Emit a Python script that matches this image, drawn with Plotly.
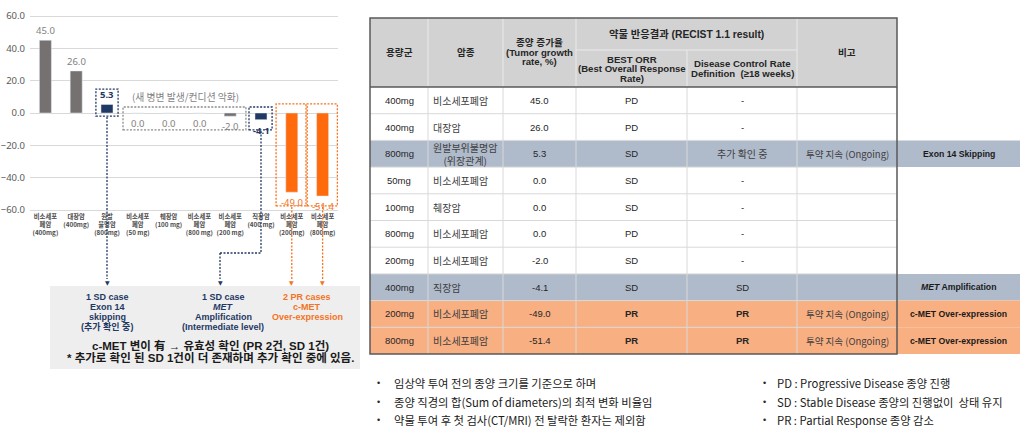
import plotly.graph_objects as go

W, H = 1022, 431


def PX(x):
    return x / W


def PY(y):
    return 1 - y / H


# ---------------- data ----------------
tick_labels = ["비소세포<br>폐암<br>(400mg)", "대장암<br>(400mg)", "원발<br>불명암<br>(800mg)",
               "비소세포<br>폐암<br>(50 mg)", "췌장암<br>(100 mg)", "비소세포<br>폐암<br>(800 mg)",
               "비소세포<br>폐암<br>(200 mg)", "직장암<br>(400 mg)", "비소세포<br>폐암<br>(200mg)",
               "비소세포<br>폐암<br>(800mg)"]
growth = [45.0, 26.0, 5.3, 0.0, 0.0, 0.0, -2.0, -4.1, -49.0, -51.4]
y_ticks = [60, 40, 20, 0, -20, -40, -60]

doses = ["400mg", "400mg", "800mg", "50mg", "100mg", "800mg", "200mg", "400mg", "200mg", "800mg"]
cancers = ["비소세포폐암", "대장암", "원발부위불명암<br>(위장관계)", "비소세포폐암", "췌장암",
           "비소세포폐암", "비소세포폐암", "직장암", "비소세포폐암", "비소세포폐암"]
best_orr = ["PD", "PD", "SD", "SD", "SD", "PD", "SD", "SD", "PR", "PR"]
dcr = ["-", "-", "추가 확인 중", "-", "-", "-", "-", "SD", "PR", "PR"]
remarks = ["", "", "투약 지속 (Ongoing)", "", "", "", "", "", "투약 지속 (Ongoing)", "투약 지속 (Ongoing)"]
mutation = ["", "", "Exon 14 Skipping", "", "", "", "", "<i>MET</i> Amplification",
            "c-MET Over-expression", "c-MET Over-expression"]

header_texts = [["용량군"], ["암종"], ["종양 증가율", "(Tumor growth", "rate, %)"]]
group_header = "약물 반응결과 (RECIST 1.1 result)"
sub_headers = [["BEST ORR", "(Best Overall Response", "Rate)"],
               ["Disease Control Rate", "Definition  (≥18 weeks)"]]
remark_header = "비고"

notes_left = ["임상약 투여 전의 종양 크기를 기준으로 하며",
              "종양 직경의 합(Sum of diameters)의 최적 변화 비율임",
              "약물 투여 후 첫 검사(CT/MRI) 전 탈락한 환자는 제외함"]
notes_right = ["PD : Progressive Disease 종양 진행",
               "SD : Stable Disease 종양의 진행없이  상태 유지",
               "PR : Partial Response 종양 감소"]

case_texts = [["1 SD case", "Exon 14", "skipping", "(추가 확인 중)"],
              ["1 SD case", "<i>MET</i>", "Amplification", "(Intermediate level)"],
              ["2 PR cases", "c-MET", "Over-expression"]]
summary_lines = ["c-MET 변이 有 → 유효성 확인 (PR 2건, SD 1건)",
                 "* 추가로 확인 된 SD 1건이 더 존재하며 추가 확인 중에 있음."]
chart_note = "(새 병변 발생/컨디션 악화)"

# ---------------- styles ----------------
GRAY = "#767171"
NAVY = "#1F3864"
ORANGE = "#FF6A0D"
ORANGE_T = "#F4731F"
LBL_GRAY = "#7F7F7F"
BLUEGRAY = "#AFBACB"
PEACH = "#F8AF82"
FONT = "Liberation Sans, Arial, Noto Sans CJK KR, sans-serif"
KFONT = "Noto Sans CJK KR, Liberation Sans, sans-serif"

bar_colors = [GRAY, GRAY, NAVY, GRAY, GRAY, GRAY, GRAY, NAVY, ORANGE, ORANGE]
label_colors = [LBL_GRAY, LBL_GRAY, NAVY, LBL_GRAY, LBL_GRAY, LBL_GRAY, LBL_GRAY, NAVY, ORANGE_T, ORANGE_T]
label_bold = [False, False, True, False, False, False, False, True, False, False]
row_fill = ["white", "white", BLUEGRAY, "white", "white", "white", "white", BLUEGRAY, PEACH, PEACH]

# plot geometry (pixels)
X0, X1 = 30, 338
Y_ZERO = 113
UNIT = 194 / 120
YR = 61
n = len(growth)


def cx(i):
    return PX(X0 + (i + 0.5) * (X1 - X0) / n)


fig = go.Figure()
fig.add_trace(go.Bar(x=list(range(n)), y=growth, marker_color=bar_colors, width=0.39,
                     hoverinfo="skip"))

shapes = []
ann = []


def text_at(x, y, text, size=9.5, color="#262626", xanchor="center", family=FONT):
    ann.append(dict(x=PX(x), y=PY(y), xref="paper", yref="paper", text=text, showarrow=False,
                    xanchor=xanchor, yanchor="middle", align="center",
                    font=dict(size=size, color=color, family=family)))


def lines_at(x, y_first, lines, step, size, color="#262626", bold=True, family=FONT):
    for k, ln in enumerate(lines):
        text_at(x, y_first + k * step, f"<b>{ln}</b>" if bold else ln, size=size, color=color, family=family)


# gray box background for case descriptions
shapes.append(dict(type="rect", xref="paper", yref="paper", x0=PX(50), x1=PX(360), y0=PY(369), y1=PY(286),
                   fillcolor="#EEEEEE", line=dict(width=0), layer="below"))

# bar value labels
for i, v in enumerate(growth):
    pos = v > 0
    t = f"{v:.1f}"
    if label_bold[i]:
        t = f"<b>{t}</b>"
    ann.append(dict(x=i, y=v, xref="x", yref="y", text=t, showarrow=False, xanchor="center",
                    yanchor="bottom" if pos else "top", yshift=1 if pos else -2,
                    font=dict(size=9.5, color=label_colors[i], family="Noto Sans, " + KFONT)))

DOT = "2px,1.5px"
# dotted boxes (data coordinates)
boxes = [(1.64, 2.36, -1.9, 14.8, NAVY), (2.52, 6.51, -10.5, 3.7, "#8C8C8C"),
         (6.61, 7.36, -10.5, 3.7, NAVY), (7.49, 8.46, -57.5, 5.6, ORANGE_T),
         (8.50, 9.48, -57.5, 5.6, ORANGE_T)]
for x0, x1, y0, y1, c in boxes:
    shapes.append(dict(type="rect", xref="x", yref="y", x0=x0, x1=x1, y0=y0, y1=y1,
                       line=dict(color=c, width=1.3, dash=DOT)))


# connectors
def vline(x, ya, yb, c):
    shapes.append(dict(type="line", xref="paper", yref="paper", x0=x, x1=x, y0=PY(ya), y1=PY(yb),
                       line=dict(color=c, width=1.3, dash=DOT)))


vline(cx(2), 117, 279, NAVY)
vline(cx(7), 131, 253, NAVY)
shapes.append(dict(type="line", xref="paper", yref="paper", x0=PX(220), x1=cx(7), y0=PY(253), y1=PY(253),
                   line=dict(color=NAVY, width=1.3, dash=DOT)))
vline(PX(220), 253, 279, NAVY)
vline(cx(8), 207, 279, ORANGE_T)
vline(cx(9), 207, 279, ORANGE_T)
for xa, c in [(cx(2), NAVY), (PX(220), NAVY), (cx(8), ORANGE_T), (cx(9), ORANGE_T)]:
    ann.append(dict(x=xa, y=PY(282), xref="paper", yref="paper", text="▼", showarrow=False,
                    xanchor="center", yanchor="middle",
                    font=dict(size=6, color=c, family="DejaVu Sans")))

text_at(185, 97, chart_note, size=9.8, color=LBL_GRAY, family=KFONT)

# case description texts
for lines, xc, c in zip(case_texts, [107, 223, 307], [NAVY, NAVY, ORANGE_T]):
    lines_at(xc, 296.5, lines, 10, 9, color=c)
for k, line in enumerate(summary_lines):
    text_at(210, 345 + 12.5 * k, f"<b>{line}</b>", size=11.5, color="#1A1A1A")

# ---------------- table ----------------
col_x = [370, 428, 503, 576, 687, 797, 897]
EXTRA_R = 1020
T_TOP, T_MID, T_HEAD, T_BOT = 18, 50, 87, 354
ROW_H = (T_BOT - T_HEAD) / len(doses)


def rect(x0, x1, y0, y1, fill):
    shapes.append(dict(type="rect", xref="paper", yref="paper", x0=PX(x0), x1=PX(x1), y0=PY(y1), y1=PY(y0),
                       fillcolor=fill, line=dict(width=0)))


def hline(x0, x1, y, c, w=1):
    shapes.append(dict(type="line", xref="paper", yref="paper", x0=PX(x0), x1=PX(x1), y0=PY(y), y1=PY(y),
                       line=dict(color=c, width=w)))


def vl(x, y0, y1, c, w=1):
    shapes.append(dict(type="line", xref="paper", yref="paper", x0=PX(x), x1=PX(x), y0=PY(y0), y1=PY(y1),
                       line=dict(color=c, width=w)))


rect(col_x[0], col_x[-1], T_TOP, T_HEAD, "#D2D2D2")
for r in range(len(doses)):
    ya = T_HEAD + r * ROW_H
    if row_fill[r] != "white":
        rect(col_x[0], EXTRA_R, ya, ya + ROW_H, row_fill[r])
# inner lines
for r in range(1, len(doses)):
    hline(col_x[0], col_x[-1], T_HEAD + r * ROW_H, "#D9D9D9")
hline(col_x[3], col_x[5], T_MID, "#EAEAEA")
for k, x in enumerate(col_x[1:-1], start=1):
    vl(x, T_MID if k == 4 else T_TOP, T_HEAD, "#EAEAEA")
    vl(x, T_HEAD, T_BOT, "#D9D9D9")
hline(col_x[0], col_x[-1], T_HEAD, "#595959", 1.5)
shapes.append(dict(type="rect", xref="paper", yref="paper", x0=PX(col_x[0]), x1=PX(col_x[-1]),
                   y0=PY(T_BOT), y1=PY(T_TOP), line=dict(color="#595959", width=1.5)))


def ccol(k):
    return (col_x[k] + col_x[k + 1]) / 2


HS = 9.6
lines_at(ccol(0), 52, header_texts[0], 10, HS)
lines_at(ccol(1), 52, header_texts[1], 10, HS)
lines_at(ccol(2), 42, header_texts[2], 10, HS)
text_at((col_x[3] + col_x[5]) / 2, 34, f"<b>{group_header}</b>", size=10.3)
lines_at(ccol(3), 59.5, sub_headers[0], 9.3, HS)
lines_at(ccol(4), 63.5, sub_headers[1], 10, HS)
text_at(ccol(5), 52, f"<b>{remark_header}</b>", size=HS)

for r in range(len(doses)):
    yc = T_HEAD + (r + 0.5) * ROW_H
    text_at(ccol(0), yc, doses[r])
    ann.append(dict(x=PX(col_x[1] + 3), y=PY(yc), xref="paper", yref="paper", text=cancers[r],
                    showarrow=False, xanchor="left", yanchor="middle", align="center",
                    font=dict(size=10, color="#404040", family=KFONT)))
    text_at(ccol(2), yc, f"{growth[r]:.1f}")
    o = best_orr[r]
    text_at(ccol(3), yc, f"<b>{o}</b>" if o == "PR" else o)
    d = dcr[r]
    text_at(ccol(4), yc, f"<b>{d}</b>" if d == "PR" else d,
            family=KFONT if d == "추가 확인 중" else FONT,
            color="#404040" if d == "추가 확인 중" else "#262626", size=10 if d == "추가 확인 중" else 9.5)
    if remarks[r]:
        text_at(ccol(5), yc, remarks[r], size=9.5, color="#404040", family=KFONT)
    if mutation[r]:
        text_at((col_x[-1] + EXTRA_R) / 2, yc, f"<b>{mutation[r]}</b>", size=8.7, color="#1A1A1A")

# ---------------- notes ----------------
for k, t in enumerate(notes_left):
    yc = 383 + 18.5 * k
    text_at(378, yc, "•", size=9, color="#262626")
    ann.append(dict(x=PX(392), y=PY(yc), xref="paper", yref="paper", text=t, showarrow=False,
                    xanchor="left", yanchor="middle", font=dict(size=11.3, color="#1A1A1A", family=KFONT)))
for k, t in enumerate(notes_right):
    yc = 383 + 18.5 * k
    text_at(764, yc, "•", size=9, color="#262626")
    ann.append(dict(x=PX(775), y=PY(yc), xref="paper", yref="paper", text=t, showarrow=False,
                    xanchor="left", yanchor="middle", font=dict(size=11.3, color="#1A1A1A", family=KFONT)))

fig.update_layout(
    width=W, height=H, margin=dict(l=0, r=0, t=0, b=0),
    paper_bgcolor="white", plot_bgcolor="white", showlegend=False,
    shapes=shapes, annotations=ann,
    xaxis=dict(domain=[PX(X0), PX(X1)], range=[-0.5, n - 0.5], tickvals=list(range(n)),
               ticktext=tick_labels, tickfont=dict(size=6.3, color="#4D4D4D", family=KFONT, weight="bold"),
               showgrid=False, zeroline=False, showline=False, ticks="", automargin=False,
               fixedrange=True),
    yaxis=dict(domain=[PY(Y_ZERO + YR * UNIT), PY(Y_ZERO - YR * UNIT)], range=[-YR, YR],
               tickvals=y_ticks, tickformat=".1f", gridcolor="#D9D9D9", gridwidth=1,
               zeroline=True, zerolinecolor="#D9D9D9", zerolinewidth=1, showline=False, ticks="",
               tickfont=dict(size=9.5, color="#595959", family="Noto Sans, " + FONT),
               automargin=False, fixedrange=True, ticklabelstandoff=4),
)

fig.write_html("out.html")
